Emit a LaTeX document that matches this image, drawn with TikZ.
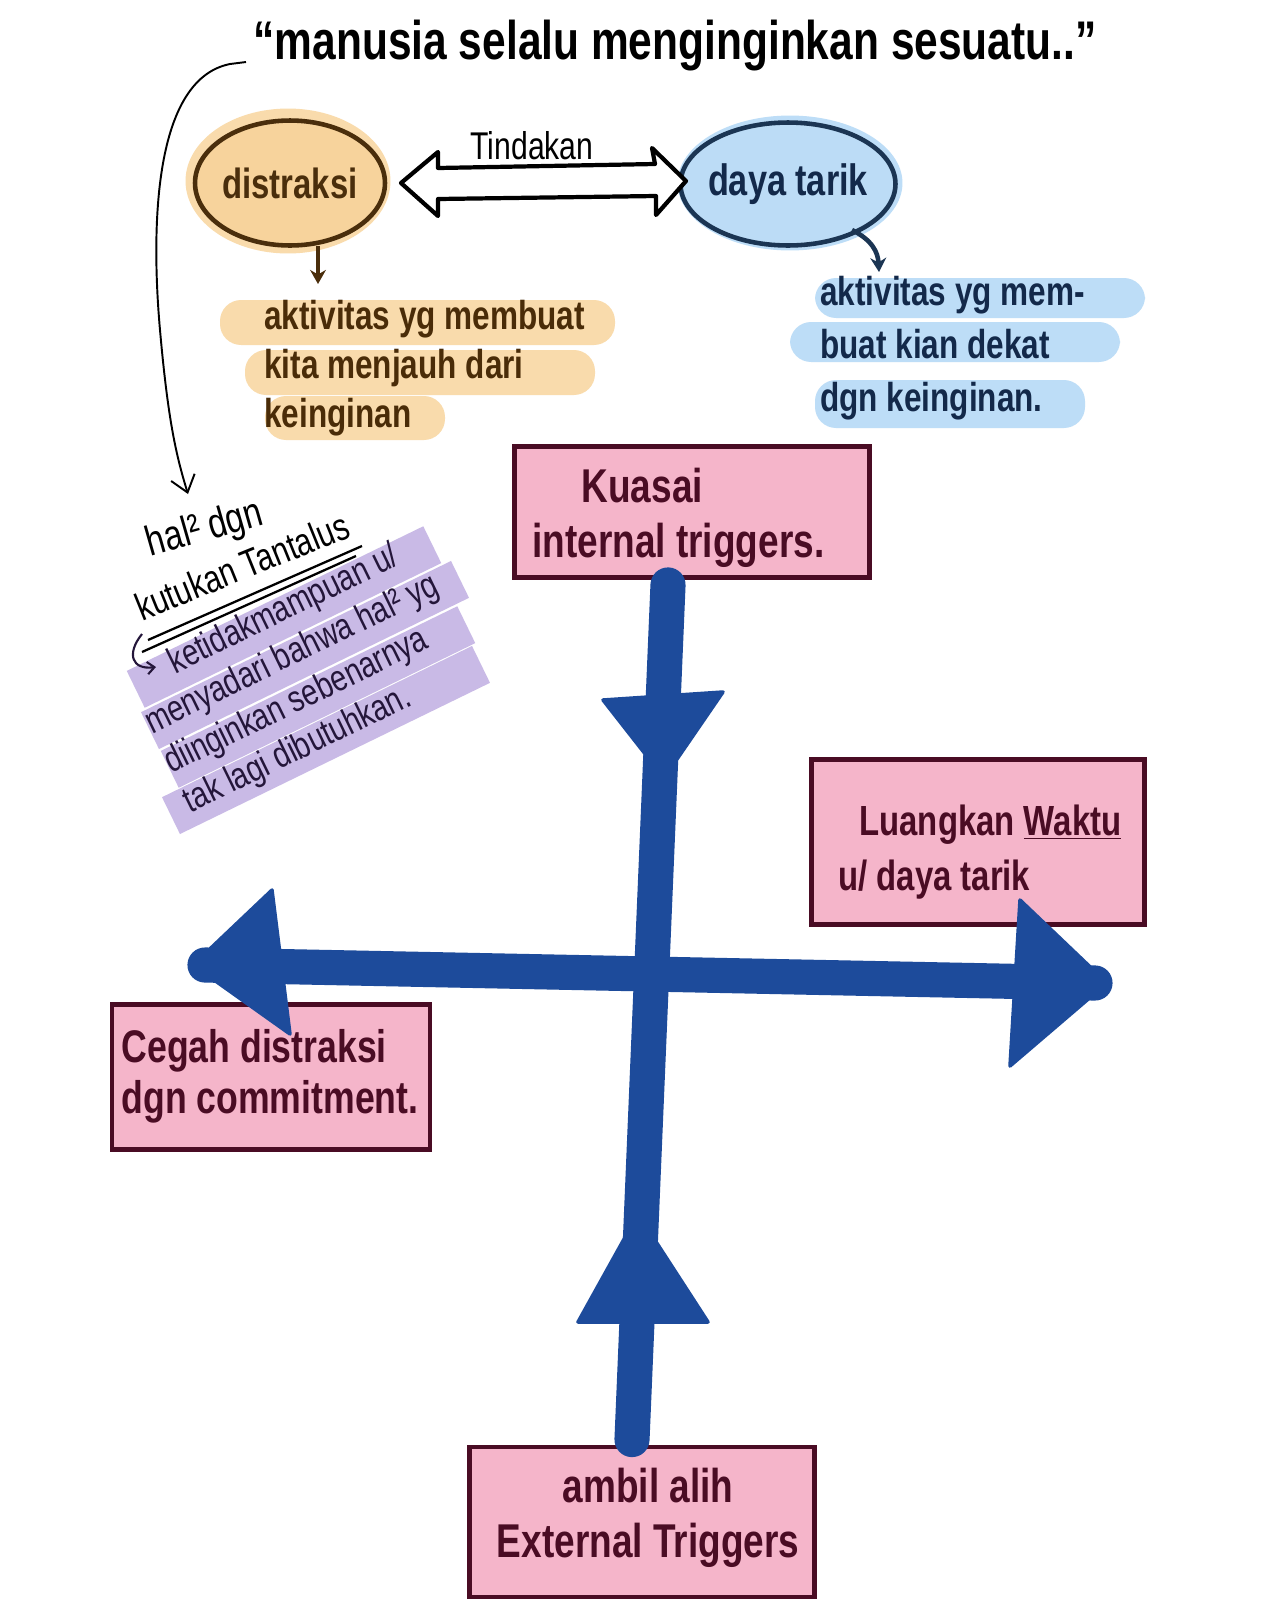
\documentclass[tikz,border=0pt]{standalone}
\usepackage{fontspec}
\setmainfont{Liberation Sans}
\newfontfamily\hand[FakeStretch=0.78]{Liberation Sans}
\usetikzlibrary{arrows.meta,shapes.geometric}
\definecolor{orfill}{HTML}{F7D39C}
\definecolor{orhl}{HTML}{F9DBAC}
\definecolor{orline}{HTML}{4A2E0C}
\definecolor{ortext}{HTML}{4A2C08}
\definecolor{blfill}{HTML}{BCDCF6}
\definecolor{blhl}{HTML}{BDDDF7}
\definecolor{blline}{HTML}{1B3553}
\definecolor{bltext}{HTML}{13294A}
\definecolor{purhl}{HTML}{C9BAE6}
\definecolor{purtext}{HTML}{24163A}
\definecolor{pinkfill}{HTML}{F5B5CA}
\definecolor{maroon}{HTML}{4A0C24}
\definecolor{crossblue}{HTML}{1D4B9B}
\newcommand\myhf[2]{\hand\bfseries\fontsize{#1}{#2}\selectfont}
\newcommand\myhr[2]{\hand\fontsize{#1}{#2}\selectfont}
\begin{document}
\begin{tikzpicture}[x=0.02cm,y=-0.02cm,
  ortxt/.style={text=ortext, font=\myhf{23}{28}, align=left, inner sep=0pt},
  bltxt/.style={text=bltext, font=\myhf{23}{30}, align=left, inner sep=0pt},
  purband/.style={fill=purhl, minimum width=6.6cm, minimum height=0.82cm, inner sep=0pt, rotate=26},
  purtxt/.style={text=purtext, font=\myhr{21}{25}, align=left, inner sep=0pt, rotate=26},
  blacktxt/.style={text=black, font=\myhr{22}{24}, inner sep=0pt, rotate=22},
  pinkbox/.style={draw=maroon, fill=pinkfill, line width=2.8pt, inner sep=0pt},
  pinktxt/.style={text=maroon, font=\myhf{27}{31}, align=center, inner sep=0pt},
  cross/.style={draw=crossblue, line width=20pt, line cap=round},
  headfill/.style={fill=crossblue, draw=crossblue, line width=2pt, line join=round},
  thinarrow/.style={draw=black, line width=1.1pt, -{Straight Barb[length=9pt,width=14pt]}},
]
\useasboundingbox[fill=white] (0,0) rectangle (1279,1600);

% ---------- title ----------
\node[text=black, font=\myhf{31}{33}, inner sep=0pt] (title) at (675,46) {“manusia selalu menginginkan sesuatu..”};
\coordinate (cstart) at (246,62);
\coordinate (cend) at (188,494);
\draw[thinarrow] (cstart) -- (230,64) .. controls (150,80) and (152,240) .. (160,330) .. controls (168,420) and (176,455) .. (cend);

% ---------- ellipses ----------
\node[ellipse, fill=orhl, minimum width=4.1cm, minimum height=2.9cm] (distrhalo) at (288,181) {};
\node[ellipse, draw=orline, fill=orfill, line width=2.6pt, minimum width=3.8cm, minimum height=2.5cm, inner sep=0pt,
      text=orline, font=\myhf{24}{26}] (distr) at (290,183) {\makebox[0pt][c]{distraksi}};
\node[ellipse, fill=blhl, minimum width=4.5cm, minimum height=2.7cm] (dayahalo) at (790,183) {};
\node[ellipse, draw=blline, fill=blfill, line width=2.6pt, minimum width=4.3cm, minimum height=2.46cm, inner sep=0pt,
      text=bltext, font=\myhf{25}{27}] (daya) at (788,184) {\makebox[0pt][c]{daya tarik}};

% double arrow "Tindakan"
\draw[black, fill=white, line width=2.4pt, line join=round]
  (401,183) -- (438,152) -- (438,168) -- (655,164) -- (652,148) -- (686,181)
  -- (656,215) -- (656,196) -- (438,199) -- (438,216) -- cycle;
\node[text=black, font=\myhr{22}{24}, inner sep=0pt] (tind) at (532,146) {Tindakan};

% ---------- orange explanation ----------
\fill[orhl, rounded corners=12pt] (220,300) rectangle (615,345);
\fill[orhl, rounded corners=12pt] (245,350) rectangle (595,395);
\fill[orhl, rounded corners=12pt] (265,396) rectangle (445,440);
\node[ortxt, anchor=west] (ortext) at (264,368) {aktivitas yg membuat\\kita menjauh dari\\keinginan};
\draw[orline, line width=2.6pt, -{Stealth[length=8pt,width=9pt]}] (distr.south -| 318,0) ++(0,-2) -- (318,284);

% ---------- blue explanation ----------
\fill[blhl, rounded corners=12pt] (815,278) rectangle (1145,318);
\fill[blhl, rounded corners=12pt] (790,322) rectangle (1120,362);
\fill[blhl, rounded corners=12pt] (815,380) rectangle (1085,428);
\node[bltxt, anchor=west] (bltext) at (820,348) {aktivitas yg mem-\\buat kian dekat\\dgn keinginan.};
\draw[blline, line width=2.6pt, -{Stealth[length=8pt,width=9pt]}] (852,230) .. controls (872,240) and (878,252) .. (879,272);

% ---------- Tantalus block ----------
\node[purband] (b1) at (284,617) {};
\node[purband, minimum width=6.9cm] (b2) at (305,655) {};
\node[purband] (b3) at (318,697) {};
\node[purband, minimum width=6.9cm] (b4) at (326,740) {};
\node[blacktxt, rotate=-6, font=\myhr{24}{26}] (hal) at (205,530) {hal² dgn};
\node[blacktxt] (kutuk) at (242,566) {kutukan Tantalus};
\draw[black, line width=1.3pt] (148,640) -- (362,546);
\draw[black, line width=1.3pt] (142,652) -- (356,556);
\draw[purtext, line width=1.2pt, -{Straight Barb[length=4pt,width=7pt]}] (142,634) .. controls (126,654) and (132,670) .. (156,667);
\node[purtxt] (tantext) at (302,675) {\hspace*{27pt}ketidakmampuan u/\\menyadari bahwa hal² yg\\diinginkan sebenarnya\\tak lagi dibutuhkan.};

% ---------- pink boxes ----------
\node[pinkbox, minimum width=7.1cm, minimum height=2.62cm] (kuasai) at (692,512) {};
\node[pinktxt, align=left, anchor=west] (kuasaitxt) at (532,518) {\hspace*{28pt}Kuasai\\internal triggers.};
\node[pinkbox, minimum width=6.66cm, minimum height=3.3cm] (luang) at (978,842) {};
\node[pinktxt, font=\myhf{24}{31}, align=left, anchor=west] (luangtxt) at (838,852) {\hspace*{12pt}Luangkan \underline{Waktu}\\u/ daya tarik};
\node[pinkbox, minimum width=6.36cm, minimum height=2.9cm] (cegah) at (271,1077) {};
\node[pinktxt, align=left, font=\myhf{26}{29}] (cegahtxt) at (270,1076) {Cegah distraksi\\dgn commitment.};
\node[pinkbox, minimum width=6.9cm, minimum height=3cm] (ambil) at (642,1522) {};
\node[pinktxt] (ambiltxt) at (648,1518) {ambil alih\\External Triggers};

% ---------- blue cross ----------
\draw[cross] ([xshift=-0.48cm,yshift=-0.1cm]kuasai.south) -- ([xshift=-0.2cm,yshift=0.1cm]ambil.north);
\coordinate (hl) at (205,965);
\coordinate (hr) at (1095,983);
\draw[cross] (hl) -- (hr);
% arrow heads
\path[headfill] (193,965) -- (272,890) -- (290,1034) -- cycle;
\path[headfill] (1107,983) -- (1020,900) -- (1010,1066) -- cycle;
\path[headfill] (603,700) -- (723,692) -- (664,778) -- cycle;
\path[headfill] (638,1214) -- (578,1322) -- (708,1322) -- cycle;
\end{tikzpicture}
\end{document}
